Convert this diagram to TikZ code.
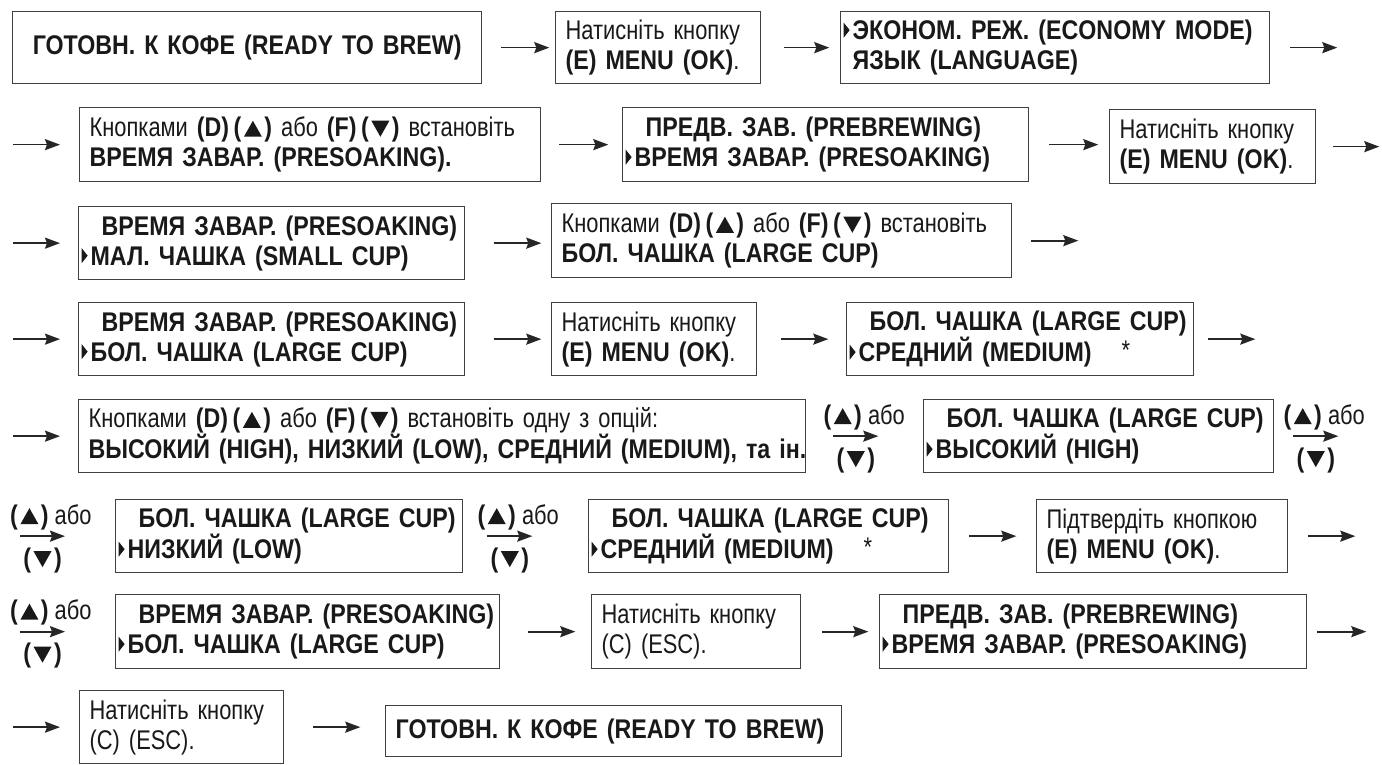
\documentclass[tikz,border=0pt]{standalone}
\usepackage{fontspec}
\setmainfont{Liberation Sans}[FakeStretch=0.81, BoldFeatures={FakeStretch=0.86}]
\usetikzlibrary{arrows.meta,calc}
\newcommand\tup{\kern2.5pt\tikz[baseline=0pt]\fill (0pt,0pt)--(18pt,0pt)--(9pt,16pt)--cycle;\kern2.5pt}
\newcommand\tdn{\kern2.5pt\tikz[baseline=0pt]\fill (0pt,16pt)--(18pt,16pt)--(9pt,0pt)--cycle;\kern2.5pt}
\newcommand\tmk{\tikz[baseline=0pt]\fill (0pt,2pt)--(0pt,17pt)--(6pt,9.5pt)--cycle;\hspace{3pt}}
\newcommand\tind{\hspace{20pt}}
\newcommand\lbl[2]{%
  \coordinate (#1) at #2;
  \draw[arr] (#1) -- ++(45,0);
  \node[lab, anchor=base west] (#1u) at ($(#1)+(-10,-12)$) {\textbf{(\tup)} або};
  \node[lab, anchor=base] (#1d) at ($(#1)+(22.5,31)$) {\textbf{(\tdn)}};
}
\begin{document}
\begin{tikzpicture}[x=1pt,y=-1pt,
  box/.style={draw=black!75, line width=1.3pt, anchor=north west, inner xsep=10pt,
    inner ysep=0pt, align=left, text=black!90, font=\fontsize{27}{30}\selectfont},
  mbox/.style={box, inner xsep=3pt},
  lab/.style={inner sep=0pt, text=black!90, font=\fontsize{27}{30}\selectfont},
  arr/.style={line width=1.7pt, draw=black!85, -{Stealth[length=15pt,width=11pt,inset=2pt]}}]
\fill[white] (0,0) rectangle (1382,765);
\useasboundingbox (0,0) rectangle (1382,765);

% row 1
\node[box, align=center, text width=449pt, minimum height=72pt] (b1) at (12,11)
  {\textbf{ГОТОВН. К КОФЕ (READY TO BREW)}};
\node[box, text width=185pt, minimum height=72pt] (b2) at (555,11)
  {\mbox{Натисніть кнопку}\\\mbox{\textbf{(E) MENU (OK)}.}};
\node[mbox, text width=423pt, minimum height=72pt] (b3) at (840,11)
  {\mbox{\tmk\textbf{ЭКОНОМ. РЕЖ. (ECONOMY MODE)}}\\\mbox{\hspace{9pt}\textbf{ЯЗЫК (LANGUAGE)}}};
% row 2
\node[box, text width=441pt, minimum height=74pt] (b4) at (79,107)
  {\mbox{Кнопками \textbf{(D)\,(\tup)} або \textbf{(F)\,(\tdn)} встановіть}\\\mbox{\textbf{ВРЕМЯ ЗАВАР. (PRESOAKING).}}};
\node[mbox, text width=400pt, minimum height=74pt] (b5) at (622,107)
  {\mbox{\tind\textbf{ПРЕДВ. ЗАВ. (PREBREWING)}}\\\mbox{\tmk\textbf{ВРЕМЯ ЗАВАР. (PRESOAKING)}}};
\node[box, text width=186pt, minimum height=74pt] (b6) at (1109,109)
  {\mbox{Натисніть кнопку}\\\mbox{\textbf{(E) MENU (OK)}.}};
% row 3
\node[mbox, text width=380pt, minimum height=73pt] (b7) at (78,206)
  {\mbox{\tind\textbf{ВРЕМЯ ЗАВАР. (PRESOAKING)}}\\\mbox{\tmk\textbf{МАЛ. ЧАШКА (SMALL CUP)}}};
\node[box, text width=440pt, minimum height=74pt] (b8) at (551,203)
  {\mbox{Кнопками \textbf{(D)\,(\tup)} або \textbf{(F)\,(\tdn)} встановіть}\\\mbox{\textbf{БОЛ. ЧАШКА (LARGE CUP)}}};
% row 4
\node[mbox, text width=380pt, minimum height=73pt] (b9) at (78,302)
  {\mbox{\tind\textbf{ВРЕМЯ ЗАВАР. (PRESOAKING)}}\\\mbox{\tmk\textbf{БОЛ. ЧАШКА (LARGE CUP)}}};
\node[box, text width=185pt, minimum height=73pt] (b10) at (551,302)
  {\mbox{Натисніть кнопку}\\\mbox{\textbf{(E) MENU (OK)}.}};
\node[mbox, text width=341pt, minimum height=73pt] (b11) at (846,302)
  {\mbox{\tind\textbf{БОЛ. ЧАШКА (LARGE CUP)}}\\\mbox{\tmk\textbf{СРЕДНИЙ (MEDIUM)}\hspace{30pt}\raisebox{2pt}{*}}};
% row 5
\node[box, text width=707pt, minimum height=73pt] (b12) at (78,399)
  {\mbox{Кнопками \textbf{(D)\,(\tup)} або \textbf{(F)\,(\tdn)} встановіть одну з опцій:}\\\mbox{\textbf{ВЫСОКИЙ (HIGH), НИЗКИЙ (LOW), СРЕДНИЙ (MEDIUM), та ін.}}};
\node[mbox, text width=344pt, minimum height=73pt] (b13) at (923,399)
  {\mbox{\tind\textbf{БОЛ. ЧАШКА (LARGE CUP)}}\\\mbox{\tmk\textbf{ВЫСОКИЙ (HIGH)}}};
% row 6
\node[mbox, text width=341pt, minimum height=73pt] (b14) at (115,499)
  {\mbox{\tind\textbf{БОЛ. ЧАШКА (LARGE CUP)}}\\\mbox{\tmk\textbf{НИЗКИЙ (LOW)}}};
\node[mbox, text width=354pt, minimum height=73pt] (b15) at (588,499)
  {\mbox{\tind\textbf{БОЛ. ЧАШКА (LARGE CUP)}}\\\mbox{\tmk\textbf{СРЕДНИЙ (MEDIUM)}\hspace{30pt}\raisebox{2pt}{*}}};
\node[box, text width=231pt, minimum height=73pt] (b16) at (1036,499)
  {\mbox{Підтвердіть кнопкою}\\\mbox{\textbf{(E) MENU (OK)}.}};
% row 7
\node[mbox, text width=378pt, minimum height=74pt] (b17) at (115,594)
  {\mbox{\tind\textbf{ВРЕМЯ ЗАВАР. (PRESOAKING)}}\\\mbox{\tmk\textbf{БОЛ. ЧАШКА (LARGE CUP)}}};
\node[box, text width=189pt, minimum height=74pt] (b18) at (591,594)
  {\mbox{Натисніть кнопку}\\\mbox{(C) (ESC).}};
\node[mbox, text width=421pt, minimum height=74pt] (b19) at (879,594)
  {\mbox{\tind\textbf{ПРЕДВ. ЗАВ. (PREBREWING)}}\\\mbox{\tmk\textbf{ВРЕМЯ ЗАВАР. (PRESOAKING)}}};
% row 8
\node[box, text width=184pt, minimum height=73pt] (b20) at (79,690)
  {\mbox{Натисніть кнопку}\\\mbox{(C) (ESC).}};
\node[box, text width=436pt, minimum height=51pt] (b21) at (385,705)
  {\textbf{ГОТОВН. К КОФЕ (READY TO BREW)}};

% arrows
\draw[arr] ([xshift=19pt]b1.east) -- ++(48,0);
\draw[arr] ([xshift=23pt]b2.east) -- ++(45,0);
\draw[arr] ([xshift=20pt]b3.east) -- ++(47,0);
\draw[arr] ([xshift=-66pt]b4.west) -- ++(47,0);
\draw[arr] ([xshift=18pt]b4.east) -- ++(49,0);
\draw[arr] ([xshift=20pt]b5.east) -- ++(49,0);
\draw[arr] ([xshift=17pt]b6.east) -- ++(46,0);
\draw[arr] ([xshift=-65pt]b7.west) -- ++(47,0);
\draw[arr] ([xshift=29pt]b7.east) -- ++(47,0);
\draw[arr] ([xshift=19pt]b8.east) -- ++(47,0);
\draw[arr] ([xshift=-65pt]b9.west) -- ++(47,0);
\draw[arr] ([xshift=29pt]b9.east) -- ++(47,0);
\draw[arr] ([xshift=24pt]b10.east) -- ++(47,0);
\draw[arr] ([xshift=14pt]b11.east) -- ++(47,0);
\draw[arr] ([xshift=-65pt]b12.west) -- ++(47,0);
\lbl{c1}{([xshift=27pt]b12.east)}
\lbl{c2}{([xshift=19pt]b13.east)}
\lbl{c3}{([xshift=-95pt]b14.west)}
\lbl{c4}{([xshift=24pt]b14.east)}
\draw[arr] ([xshift=20pt]b15.east) -- ++(47,0);
\draw[arr] ([xshift=20pt]b16.east) -- ++(47,0);
\lbl{c5}{([xshift=-95pt]b17.west)}
\draw[arr] ([xshift=28pt]b17.east) -- ++(47,0);
\draw[arr] ([xshift=21pt]b18.east) -- ++(46,0);
\draw[arr] ([xshift=10pt]b19.east) -- ++(49,0);
\draw[arr] ([xshift=-66pt]b20.west) -- ++(47,0);
\draw[arr] ([xshift=29pt]b20.east) -- ++(47,0);
\end{tikzpicture}
\end{document}
